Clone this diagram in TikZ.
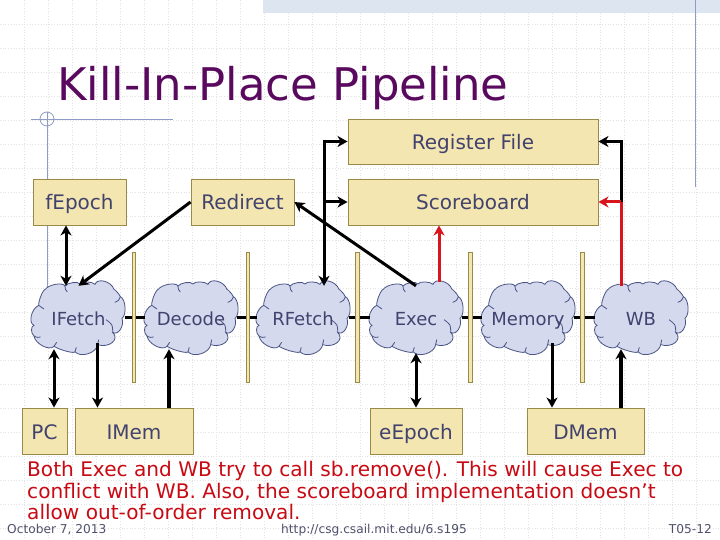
\documentclass[tikz,border=0pt]{standalone}
\usepackage{fontspec}
\setmainfont{DejaVu Sans}
\usetikzlibrary{arrows.meta}
\definecolor{boxfill}{HTML}{F3E6B0}
\definecolor{boxline}{HTML}{9A8A48}
\definecolor{cloudfill}{HTML}{D5D9EE}
\definecolor{cloudline}{HTML}{4A5585}
\definecolor{inktext}{HTML}{42426E}
\definecolor{titlecol}{HTML}{5A0A5E}
\definecolor{redtext}{HTML}{C80A14}
\definecolor{redline}{HTML}{D8141C}
\definecolor{guide}{HTML}{8D9BC6}
\definecolor{gridcol}{HTML}{E2E2E2}
\definecolor{band}{HTML}{DDE5F1}
\definecolor{foot}{HTML}{50506C}
\tikzset{
  boxnode/.style={draw=boxline,fill=boxfill,line width=0.9pt,inner sep=0pt,text=inktext,font=\fontsize{20}{22}\selectfont,text height=16pt,text depth=0pt},
  cloudlabel/.style={inner sep=0pt,minimum width=92pt,minimum height=63pt,text=inktext,text height=15pt,text depth=0pt,font=\fontsize{18}{20}\selectfont},
  barnode/.style={draw=boxline,fill=boxfill,line width=0.7pt,inner sep=0pt,minimum width=3.6pt,minimum height=130pt},
  wire/.style={line width=3pt,draw=black},
  heavywire/.style={line width=4pt,draw=black},
  redwire/.style={line width=3pt,draw=redline},
  headE/.style={-{Stealth[length=10pt,width=11pt,inset=3pt]}},
  headB/.style={{Stealth[length=10pt,width=11pt,inset=3pt]}-{Stealth[length=10pt,width=11pt,inset=3pt]}},
  guideline/.style={draw=guide,line width=0.8pt},
  gridline/.style={draw=gridcol,line width=0.7pt,dotted}
}
\newcommand\puffcloud[2]{%
\begin{scope}[shift={(#1,#2)},xscale=1/3,yscale=-1/3]
\draw[fill=cloudfill,draw=cloudline,line width=0.8pt]
 (-132,-22) .. controls (-150,-15) and (-140,28) .. (-118,38)
 .. controls (-119,51) and (-105,86) .. (-98,86)
 .. controls (-88,101) and (-45,108) .. (-39,96)
 .. controls (-32,106) and (1,111) .. (6,102)
 .. controls (10,111) and (43,110) .. (51,101)
 .. controls (58,121) and (99,111) .. (108,86)
 .. controls (111,86) and (125,70) .. (127,64)
 .. controls (143,57) and (147,10) .. (132,-1)
 .. controls (140,-24) and (120,-54) .. (104,-43)
 .. controls (126,-65) and (93,-91) .. (59,-80)
 .. controls (56,-105) and (7,-121) .. (-9,-101)
 .. controls (-8,-108) and (-53,-97) .. (-72,-85)
 .. controls (-86,-100) and (-129,-77) .. (-132,-54)
 .. controls (-142,-46) and (-142,-24) .. (-132,-22) -- cycle;
\draw[draw=cloudline,line width=0.8pt]
 (104,-43) .. controls (104,-20) .. (84,-5)
 (127,64) .. controls (122,52) .. (110,47)
 (-39,96) .. controls (-38,85) .. (-32,78)
 (-132,-54) .. controls (-122,-59) .. (-112,-57)
 (-72,-85) .. controls (-70,-78) .. (-64,-73)
 (-9,-101) .. controls (-8,-94) .. (-5,-88)
 (59,-80) .. controls (58,-73) .. (62,-65)
 (-118,38) .. controls (-112,32) .. (-102,27);
\end{scope}}
\begin{document}
\begin{tikzpicture}[x=1pt,y=-1pt]
\useasboundingbox (0,0) rectangle (720,540);
\fill[white] (0,0) rectangle (720,540);
% background grid
\foreach \gx in {24,48,...,696} {\draw[gridline] (\gx,0) -- (\gx,540);}
\foreach \gy in {24,48,...,528} {\draw[gridline] (0,\gy) -- (720,\gy);}
\fill[band] (263,0) rectangle (720,13);
% template guide lines
\draw[guideline] (31,119) -- (173,119);
\draw[guideline] (47,112) -- (47,290);
\draw[guideline] (47,119) circle (7);
\draw[guideline] (695,0) -- (695,187);
% title
\node[anchor=base west,inner sep=0pt,text=titlecol,font=\fontsize{45}{50}\selectfont] (title) at (57,101) {Kill-In-Place Pipeline};
% clouds
\puffcloud{78}{318}\puffcloud{191}{318}\puffcloud{303}{318}\puffcloud{416}{318}\puffcloud{528}{318}\puffcloud{641}{318}
\node[cloudlabel] (ifetch) at (78.5,317.5) {IFetch};
\node[cloudlabel] (decode) at (191,317.5) {Decode};
\node[cloudlabel] (rfetch) at (303,317.5) {RFetch};
\node[cloudlabel] (exec) at (416,317.5) {Exec};
\node[cloudlabel] (memory) at (528,317.5) {Memory};
\node[cloudlabel] (wb) at (641,317.5) {WB};
% boxes
\node[boxnode,minimum width=250pt,minimum height=45pt] (regfile) at (473,141.5) {Register File};
\node[boxnode,minimum width=250pt,minimum height=46pt] (sboard) at (473,202) {Scoreboard};
\node[boxnode,minimum width=93pt,minimum height=46pt] (fepoch) at (79.5,202) {fEpoch};
\node[boxnode,minimum width=103pt,minimum height=46pt] (redirect) at (242.5,202) {Redirect};
\node[boxnode,minimum width=45pt,minimum height=46pt] (pc) at (44.5,431) {PC};
\node[boxnode,minimum width=118pt,minimum height=46pt] (imem) at (134,431) {IMem};
\node[boxnode,minimum width=92pt,minimum height=46pt] (eepoch) at (416,431) {eEpoch};
\node[boxnode,minimum width=117pt,minimum height=46pt] (dmem) at (585.5,431) {DMem};
% stage connections, behind the bars
\draw[wire] (ifetch.east) -- (decode.west);
\draw[wire] (decode.east) -- (rfetch.west);
\draw[wire] (rfetch.east) -- (exec.west);
\draw[wire] (exec.east) -- (memory.west);
\draw[wire] (memory.east) -- (wb.west);
\node[barnode] (barA) at (134,317) {};
\node[barnode] (barB) at (248,317.5) {};
\node[barnode] (barC) at (357.5,317) {};
\node[barnode] (barD) at (470.5,317) {};
\node[barnode] (barE) at (582.5,317.5) {};
% connectors
\coordinate (regin) at (324,0 |- regfile.west);
\coordinate (sbin) at (324,0 |- sboard.west);
\coordinate (regout) at (621,0 |- regfile.east);
\coordinate (sbout) at (621,0 |- sboard.east);
\draw[wire,headB] (66,0 |- fepoch.south) -- (66,0 |- ifetch.north);
\draw[wire,headE] (redirect.west) -- (ifetch.north);
\draw[wire,headE] (exec.north) -- (redirect.east);
\draw[wire,headE] (sbin) -- (sboard.west);
\draw[wire,headB] (regfile.west) -- (regin) -- (rfetch.north -| regin);
\draw[wire,headE] (sbout) -- (regout) -- (regfile.east);
\draw[redwire,headE] (sbout) -- (sboard.east);
\draw[redwire] (sbout) -- (621,0 |- wb.north);
\draw[redwire,headE] ([yshift=4pt,xshift=23pt]exec.north) -- (439,0 |- sboard.south);
\draw[wire,headB] (54,0 |- ifetch.south) -- (54,0 |- pc.north);
\draw[wire,headE] (97.5,343) -- (97.5,0 |- imem.north);
\draw[heavywire,headE] (169,0 |- imem.north) -- (169,0 |- decode.south);
\draw[wire,headB] ([yshift=-4pt]exec.south) -- (eepoch.north);
\draw[wire,headE] (552,343) -- (552,0 |- dmem.north);
\draw[heavywire,headE] (621,0 |- dmem.north) -- (621,0 |- wb.south);
% note
\node[anchor=north west,inner sep=0pt,align=left,text=redtext,font=\fontsize{20.1}{21.7}\selectfont] (note) at (27,461) {Both Exec and WB try to call sb.remove(). This will cause Exec to\\conflict with WB. Also, the scoreboard implementation doesn’t\\allow out-of-order removal.};
% footer
\node[anchor=base west,inner sep=0pt,text=foot,font=\fontsize{12.2}{14}\selectfont] (date) at (7,533) {October 7, 2013};
\node[anchor=base west,inner sep=0pt,text=foot,font=\fontsize{12.2}{14}\selectfont] (url) at (281,533) {http://csg.csail.mit.edu/6.s195};
\node[anchor=base east,inner sep=0pt,text=foot,font=\fontsize{12.2}{14}\selectfont] (tag) at (712,533) {T05-12};
\end{tikzpicture}
\end{document}
